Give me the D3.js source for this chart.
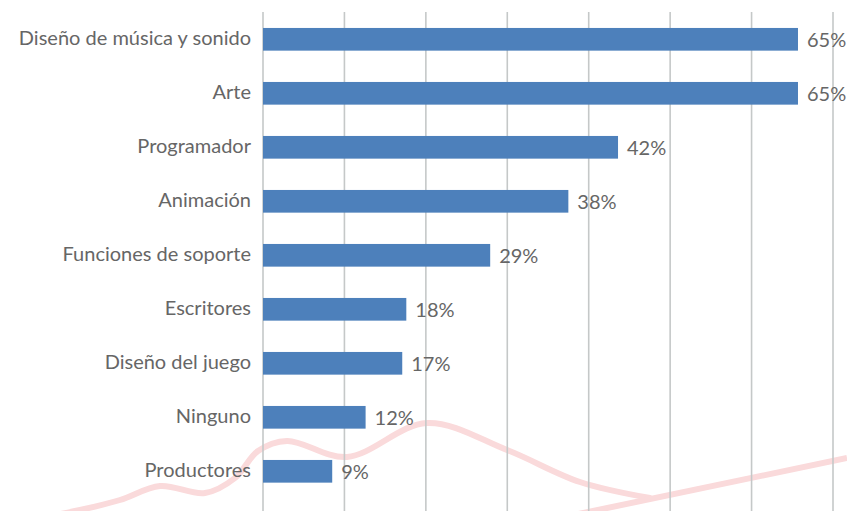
<!DOCTYPE html>
<html>
<head>
<meta charset="utf-8">
<script src="https://cdn.jsdelivr.net/npm/d3@7"></script>
<style>
  body { margin: 0; background: #fff; }
  svg { display: block; }
</style>
</head>
<body>
<div id="chart"></div>
<script>
// Categories, top to bottom
const categories = [
    "Diseño de música y sonido", "Arte", "Programador", "Animación",
    "Funciones de soporte", "Escritores", "Diseño del juego", "Ninguno", "Productores"
];
// Bar lengths (percent)
const values = [65.7, 65.7, 43.6, 37.5, 27.9, 17.6, 17.1, 12.6, 8.5];
// Printed value labels
const valueLabels = ["65%", "65%", "42%", "38%", "29%", "18%", "17%", "12%", "9%"];
// Vertical gridlines every 10
const gridTicks = [0, 10, 20, 30, 40, 50, 60, 70];

// Decorative pink wave in the background
const wavePoints = [
    [40, 518], [80, 510], [120, 500], [160, 486], [205, 493], [235, 478],
    [258, 451], [287, 441], [347, 457], [427, 423], [507, 450],
    [580, 482], [650, 498]
];
const waveLine = [[540, 522], [847, 458]];

const W = 847, H = 511;

const svg = d3.select("#chart")
    .append("svg")
    .attr("width", W)
    .attr("height", H);

const x = d3.scaleLinear()
    .domain([0, 70])
    .range([263, 833]);

const y = d3.scaleBand()
    .domain(categories)
    .range([12.3, 498.3])
    .paddingInner(0.58)
    .paddingOuter(0.29);

// background wave
svg.append("path")
    .datum(wavePoints)
    .attr("d", d3.line().curve(d3.curveCatmullRom.alpha(0.5)))
    .attr("fill", "none")
    .attr("stroke", "#fadadb")
    .attr("stroke-width", 6)
    .attr("stroke-linecap", "round");

svg.append("path")
    .datum(waveLine)
    .attr("d", d3.line())
    .attr("fill", "none")
    .attr("stroke", "#fadadb")
    .attr("stroke-width", 6);

// gridlines
svg.selectAll(".grid")
    .data(gridTicks)
    .enter()
    .append("line")
    .attr("class", "grid")
    .attr("x1", d => x(d))
    .attr("x2", d => x(d))
    .attr("y1", 12)
    .attr("y2", H)
    .attr("stroke", "#c5c8c8")
    .attr("stroke-width", 1.6);

// bars
svg.selectAll(".bar")
    .data(values)
    .enter()
    .append("rect")
    .attr("class", "bar")
    .attr("x", x(0))
    .attr("y", (d, i) => y(categories[i]))
    .attr("width", d => x(d) - x(0))
    .attr("height", y.bandwidth())
    .attr("fill", "#4d80bb");

// category labels
svg.selectAll(".cat")
    .data(categories)
    .enter()
    .append("text")
    .attr("class", "cat")
    .attr("x", 251)
    .attr("y", d => y(d) + y.bandwidth() / 2)
    .attr("dy", "0.3em")
    .attr("text-anchor", "end")
    .style("font-family", "Lato, 'Open Sans', sans-serif")
    .style("font-size", "20px")
    .style("fill", "#666666")
    .text(d => d);

// value labels
svg.selectAll(".val")
    .data(values)
    .enter()
    .append("text")
    .attr("class", "val")
    .attr("x", d => x(d) + 9)
    .attr("y", (d, i) => y(categories[i]) + y.bandwidth() / 2)
    .attr("dy", "0.38em")
    .style("font-family", "Lato, 'Open Sans', sans-serif")
    .style("font-size", "20px")
    .style("fill", "#666666")
    .text((d, i) => valueLabels[i]);
</script>
</body>
</html>
